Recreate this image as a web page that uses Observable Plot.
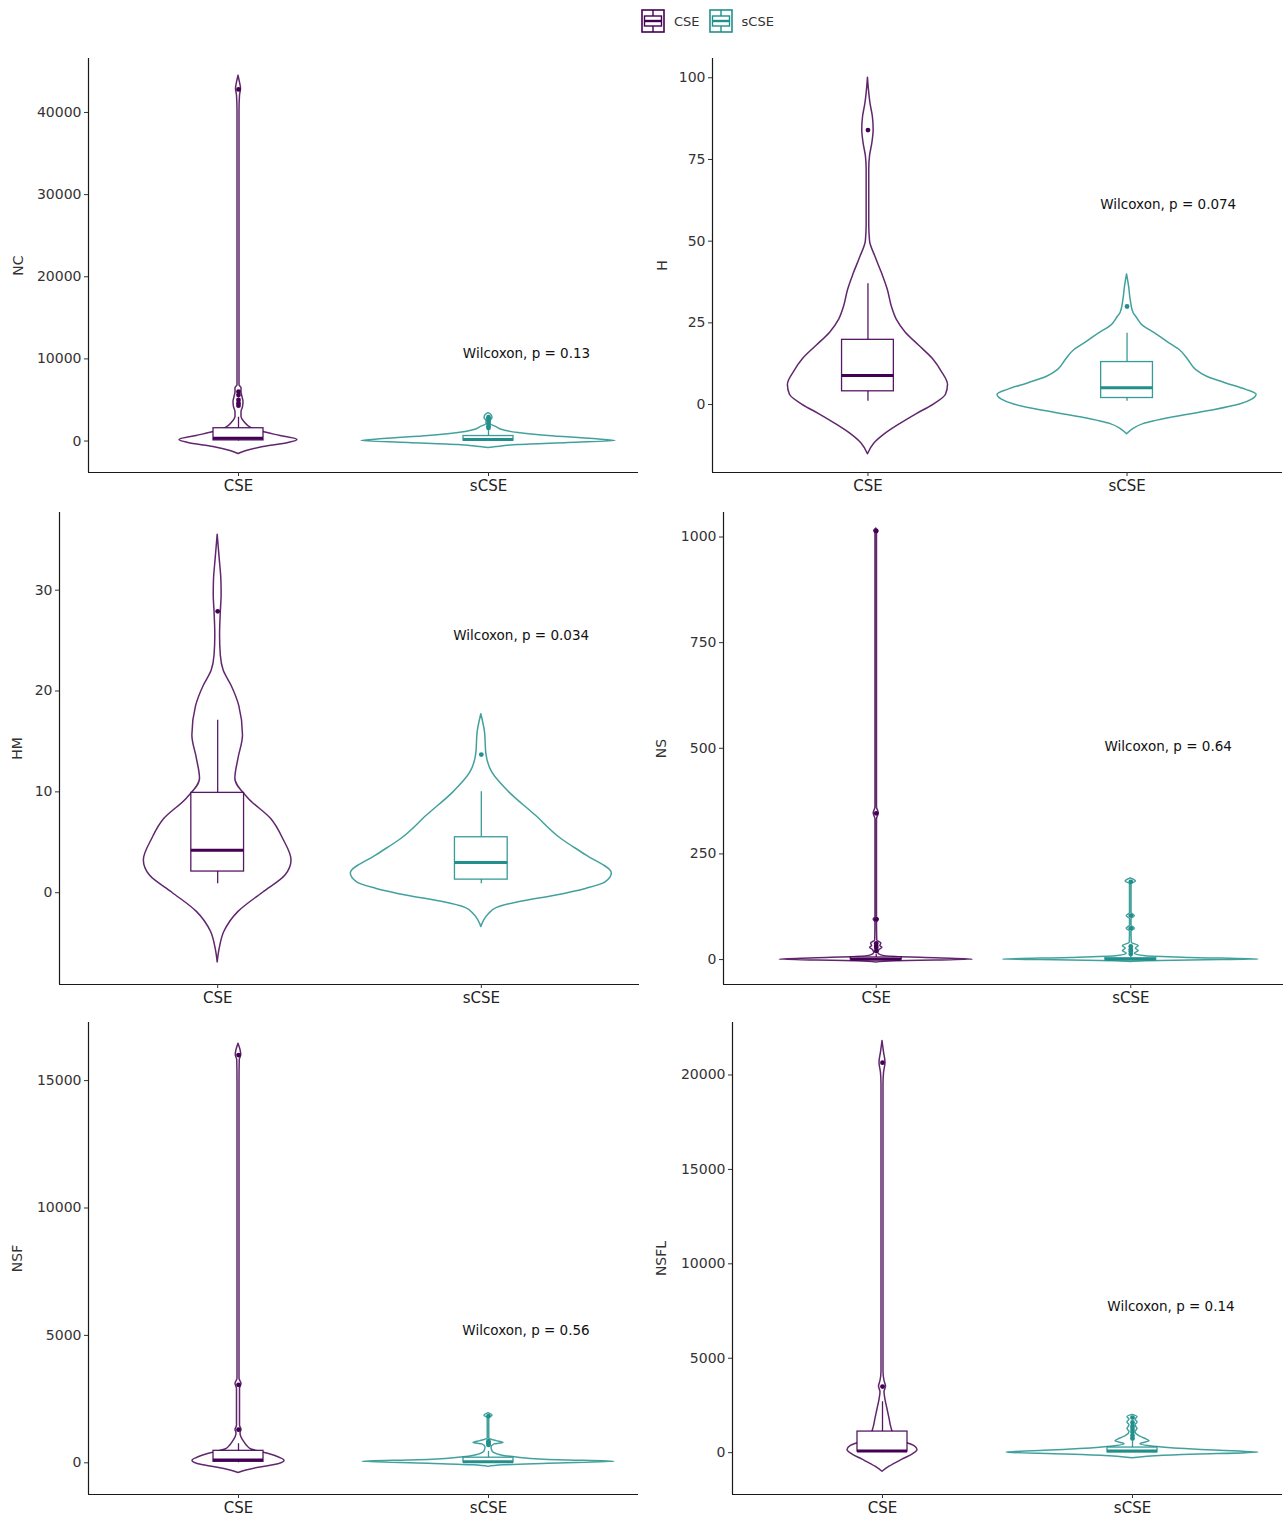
<!DOCTYPE html>
<html>
<head>
<meta charset="utf-8">
<script src="https://cdn.jsdelivr.net/npm/d3@7"></script>
<script src="https://cdn.jsdelivr.net/npm/@observablehq/plot@0.6"></script>
<style>
  html, body { margin: 0; padding: 0; background: #fff; }
  #wrap { position: relative; width: 1284px; height: 1515px; background: #fff; font-family: "DejaVu Sans", sans-serif; }
  .panel { position: absolute; }
  #legend { position: absolute; top: 9px; left: 641px; display: flex; align-items: center; gap: 0; font-size: 13px; color: #333; }
  #legend .item { display: flex; align-items: center; margin-right: 9px; }
  #legend svg { margin-right: 9px; }
</style>
</head>
<body>
<div id="wrap">
  <div id="legend"></div>
</div>
<script>
// ---------------- DATA ----------------
const groups = ["CSE", "sCSE"];
const colors = ["#440154", "#21908C"];
const panelNames = ["NC", "H", "HM", "NS", "NSF", "NSFL"];
const pLabels = ["Wilcoxon, p = 0.13", "Wilcoxon, p = 0.074", "Wilcoxon, p = 0.034",
                 "Wilcoxon, p = 0.64", "Wilcoxon, p = 0.56", "Wilcoxon, p = 0.14"];

// y tick values per panel
const ticksNC = [0, 10000, 20000, 30000, 40000];
const ticksH = [0, 25, 50, 75, 100];
const ticksHM = [0, 10, 20, 30];
const ticksNS = [0, 250, 500, 750, 1000];
const ticksNSF = [0, 5000, 10000, 15000];
const ticksNSFL = [0, 5000, 10000, 15000, 20000];

// violin outlines: [value, half-width in group units]
const violinNC_CSE = [[44470,0],[43620,.006],[42890,.010],[42040,.006],[40220,.004],[6800,.004],[6440,.012],[5950,.012],[5350,.016],[4740,.02],[4130,.018],[3520,.012],[2920,.012],[2310,.024],[1580,.052],[1090,.1],[610,.168],[120,.236],[-240,.2],[-730,.1],[-1220,.032],[-1580,0]];
const violinNC_sCSE = [[3400,0],[3160,.012],[2790,.016],[2430,.008],[2070,.008],[1700,.032],[1340,.056],[970,.12],[610,.24],[240,.42],[0,.508],[-240,.32],[-490,.12],[-730,.032],[-850,0]];
const violinH_CSE = [[100,0],[97,.003],[92,.01],[88,.019],[84,.022],[80,.017],[76,.008],[72,.005],[55,.005],[50,.008],[45,.03],[40,.055],[35,.077],[30,.092],[26,.111],[22,.146],[18,.198],[14,.25],[10,.285],[6,.309],[3,.301],[0,.254],[-3,.187],[-6,.124],[-9,.067],[-12,.024],[-15.2,0]];
const violinH_sCSE = [[39.8,0],[36,.008],[32,.014],[28,.025],[26.8,.036],[24,.063],[21.8,.108],[19,.158],[16.7,.203],[13.5,.238],[10.6,.266],[8.5,.309],[6.6,.377],[4.5,.46],[3,.5],[1.5,.483],[0,.436],[-2,.317],[-4,.174],[-6,.063],[-7.5,.024],[-9.1,0]];
const violinHM_CSE = [[35.5,0],[33,.008],[31,.014],[29.5,.015],[27.9,.012],[25.5,.009],[23.5,.012],[22,.023],[20.5,.053],[18.5,.082],[15.6,.096],[13.3,.079],[11.3,.067],[9.3,.118],[7.3,.203],[5.3,.249],[3.2,.28],[1.7,.257],[0,.172],[-1.9,.079],[-3.9,.025],[-5.5,.008],[-6.9,0]];
const violinHM_sCSE = [[17.7,0],[15.9,.014],[13.8,.019],[11.9,.042],[10,.104],[7.7,.204],[5.3,.305],[3.7,.398],[1.9,.495],[1.0,.47],[0.4,.40],[-0.3,.28],[-0.9,.15],[-1.5,.06],[-2.2,.026],[-3.4,0]];
const violinNS_CSE = [[1020,0],[1014,.008],[1008,.003],[360,.003],[346,.01],[332,.003],[100,.003],[95,.01],[88,.003],[45,.004],[38,.02],[32,.016],[28,.024],[22,.012],[15,.008],[10,.02],[6,.078],[3,.235],[0,.38],[-2,.235],[-4,.078],[-7,0]];
const violinNS_sCSE = [[192,0],[185,.02],[178,.003],[110,.003],[103,.016],[96,.003],[80,.003],[73,.016],[66,.003],[40,.004],[32,.031],[26,.02],[20,.031],[14,.016],[8,.059],[4,.235],[0,.502],[-2,.235],[-4,.059],[-6,0]];
const violinNSF_CSE = [[16450,0],[16200,.008],[16000,.011],[15800,.005],[15000,.004],[3300,.004],[3100,.012],[2900,.006],[1450,.006],[1300,.012],[1150,.008],[990,.012],[800,.024],[650,.036],[520,.052],[400,.1],[250,.152],[80,.184],[-60,.16],[-180,.088],[-300,.032],[-400,0]];
const violinNSF_sCSE = [[1950,0],[1850,.016],[1750,.003],[950,.003],[850,.032],[780,.06],[720,.024],[600,.012],[450,.016],[300,.048],[200,.12],[100,.28],[40,.504],[-40,.24],[-100,.06],[-160,0]];
const violinNSFL_CSE = [[21800,0],[21200,.006],[20650,.012],[20100,.006],[19500,.004],[4300,.004],[3800,.008],[3500,.014],[3200,.008],[2800,.012],[2300,.02],[1800,.028],[1300,.036],[900,.048],[600,.08],[350,.128],[143,.14],[-100,.12],[-370,.08],[-745,.028],[-1010,0]];
const violinNSFL_sCSE = [[2000,0],[1880,.02],[1750,.012],[1600,.02],[1450,.012],[1250,.02],[1100,.012],[900,.024],[750,.048],[600,.068],[450,.032],[300,.1],[150,.26],[0,.504],[-120,.2],[-220,.06],[-300,0]];

// box stats per group: [lower whisker, q1, median, q3, upper whisker]
const boxNC = [[0, 80, 330, 1560, 2900], [0, 60, 180, 610, 1350]];
const boxH = [[1, 4.05, 8.9, 19.8, 37], [1, 2, 5.1, 13, 21.8]];
const boxHM = [[0.9, 2.1, 4.2, 9.9, 17.1], [0.9, 1.3, 3.0, 5.5, 10]];
const boxNS = [[0, 0, 1, 5, 12], [0, 0, 1, 3, 8]];
const boxNSF = [[0, 40, 110, 470, 750], [0, 10, 40, 200, 450]];
const boxNSFL = [[0, 60, 90, 1117, 2700], [0, 20, 90, 270, 600]];

// outliers per group
const outNC = [[42800, 6000, 5600, 5000, 4600, 4300], [2900, 2700, 2500, 2100, 1800, 1600]];
const outH = [[84], [30]];
const outHM = [[27.9], [13.7]];
const outNS = [[1014, 346, 95, 38, 32, 28, 20], [184, 104, 74, 31, 24, 19, 13]];
const outNSF = [[16000, 3060, 1300], [1830, 850, 800, 760, 700]];
const outNSFL = [[20650, 3500], [1860, 1600, 1400, 1250, 1100, 900, 750]];

// ---------------- LAYOUT ----------------
const layout = [
  {left: 0,   top: 50,   w: 640, h: 454, ml: 88, mr: 2, mt: 8, mb: 32, dom: [-3830, 46570], lo: 75, px: 2.152, py: 10600},
  {left: 640, top: 50,   w: 644, h: 454, ml: 72, mr: 2, mt: 8, mb: 32, dom: [-20.8, 105.9], lo: 55, px: 2.159, py: 61.3},
  {left: 0,   top: 504,  w: 640, h: 512, ml: 59, mr: 1, mt: 8, mb: 32, dom: [-9.1, 37.7],   lo: 47, px: 2.151, py: 25.5},
  {left: 640, top: 504,  w: 644, h: 512, ml: 83, mr: 1, mt: 8, mb: 32, dom: [-59, 1058],    lo: 67, px: 2.147, py: 505},
  {left: 0,   top: 1014, w: 640, h: 501, ml: 88, mr: 2, mt: 8, mb: 21, dom: [-1244, 17280], lo: 76, px: 2.15,  py: 5170},
  {left: 640, top: 1014, w: 644, h: 501, ml: 92, mr: 2, mt: 8, mb: 21, dom: [-2216, 22780], lo: 76, px: 2.154, py: 7712}
];

const panelTicks = [ticksNC, ticksH, ticksHM, ticksNS, ticksNSF, ticksNSFL];
const panelViolins = [[violinNC_CSE, violinNC_sCSE], [violinH_CSE, violinH_sCSE], [violinHM_CSE, violinHM_sCSE],
                      [violinNS_CSE, violinNS_sCSE], [violinNSF_CSE, violinNSF_sCSE], [violinNSFL_CSE, violinNSFL_sCSE]];
const panelBoxes = [boxNC, boxH, boxHM, boxNS, boxNSF, boxNSFL];
const panelOut = [outNC, outH, outHM, outNS, outNSF, outNSFL];

const wrap = document.getElementById("wrap");
const BOXW = 0.1;

panelNames.forEach((name, k) => {
  const L = layout[k];
  const marks = [];
  groups.forEach((g, i) => {
    const pos = i + 1, col = colors[i];
    const prof = panelViolins[k][i].slice().sort((a, b) => a[0] - b[0]);
    marks.push(Plot.areaX(prof, {
      y: d => d[0], x1: d => pos - d[1], x2: d => pos + d[1],
      fill: "none", stroke: col, strokeWidth: 1.5, strokeOpacity: 0.85, curve: "monotone-y"
    }));
  });
  groups.forEach((g, i) => {
    const pos = i + 1, col = colors[i];
    const b = panelBoxes[k][i];
    const stat = [{lo: b[0], q1: b[1], med: b[2], q3: b[3], hi: b[4]}];
    marks.push(Plot.ruleX(stat, {x: () => pos, y1: d => d.q3, y2: d => d.hi, stroke: col, strokeWidth: 1.3, strokeOpacity: 0.9}));
    marks.push(Plot.ruleX(stat, {x: () => pos, y1: d => d.lo, y2: d => d.q1, stroke: col, strokeWidth: 1.3, strokeOpacity: 0.9}));
    marks.push(Plot.rect(stat, {x1: () => pos - BOXW, x2: () => pos + BOXW, y1: d => d.q1, y2: d => d.q3,
      fill: "white", stroke: col, strokeWidth: 1.3, strokeOpacity: 0.9}));
    marks.push(Plot.ruleY(stat, {y: d => d.med, x1: () => pos - BOXW, x2: () => pos + BOXW, stroke: col, strokeWidth: 3}));
    marks.push(Plot.dot(panelOut[k][i], {x: () => pos, y: d => d, r: 2.4, fill: col, stroke: "none"}));
  });
  marks.push(Plot.ruleX([0.4], {stroke: "#1a1a1a", strokeWidth: 1.2}));
  marks.push(Plot.ruleY([L.dom[0]], {stroke: "#1a1a1a", strokeWidth: 1.2}));
  marks.push(Plot.axisX([1, 2], {tickFormat: d => groups[d - 1], tickSize: 4, tickPadding: 4,
    fontSize: 15, fill: "#222", stroke: "#333", label: null}));
  marks.push(Plot.axisY(panelTicks[k], {tickFormat: d => String(d), tickSize: 4, tickPadding: 3,
    fontSize: 14, fill: "#333", stroke: "#333", label: name, labelAnchor: "center", labelOffset: L.lo, labelArrow: "none"}));
  marks.push(Plot.text([pLabels[k]], {x: () => L.px, y: () => L.py, text: d => d, fontSize: 13.5, fill: "#111",
    textAnchor: "middle"}));

  const chart = Plot.plot({
    width: L.w, height: L.h,
    marginLeft: L.ml, marginRight: L.mr, marginTop: L.mt, marginBottom: L.mb,
    style: {fontFamily: "DejaVu Sans, sans-serif", background: "white", overflow: "visible"},
    x: {type: "linear", domain: [0.4, 2.6], axis: null},
    y: {type: "linear", domain: L.dom, axis: null},
    marks
  });
  const div = document.createElement("div");
  div.className = "panel";
  div.style.left = L.left + "px";
  div.style.top = L.top + "px";
  div.appendChild(chart);
  wrap.appendChild(div);
});

// legend
const legend = document.getElementById("legend");
groups.forEach((g, i) => {
  const c = colors[i];
  const item = document.createElement("div");
  item.className = "item";
  item.innerHTML = `<svg width="24" height="24" viewBox="0 0 24 24">
    <rect x="1" y="1" width="22" height="22" fill="white" stroke="${c}" stroke-width="1.6"/>
    <line x1="12" y1="1" x2="12" y2="7" stroke="${c}" stroke-width="1.4"/>
    <line x1="12" y1="17" x2="12" y2="23" stroke="${c}" stroke-width="1.4"/>
    <rect x="3.5" y="7" width="17" height="10" fill="white" stroke="${c}" stroke-width="1.4"/>
    <line x1="3.5" y1="12" x2="20.5" y2="12" stroke="${c}" stroke-width="2.4"/>
  </svg><span>${g}</span>`;
  legend.appendChild(item);
});
</script>
</body>
</html>
